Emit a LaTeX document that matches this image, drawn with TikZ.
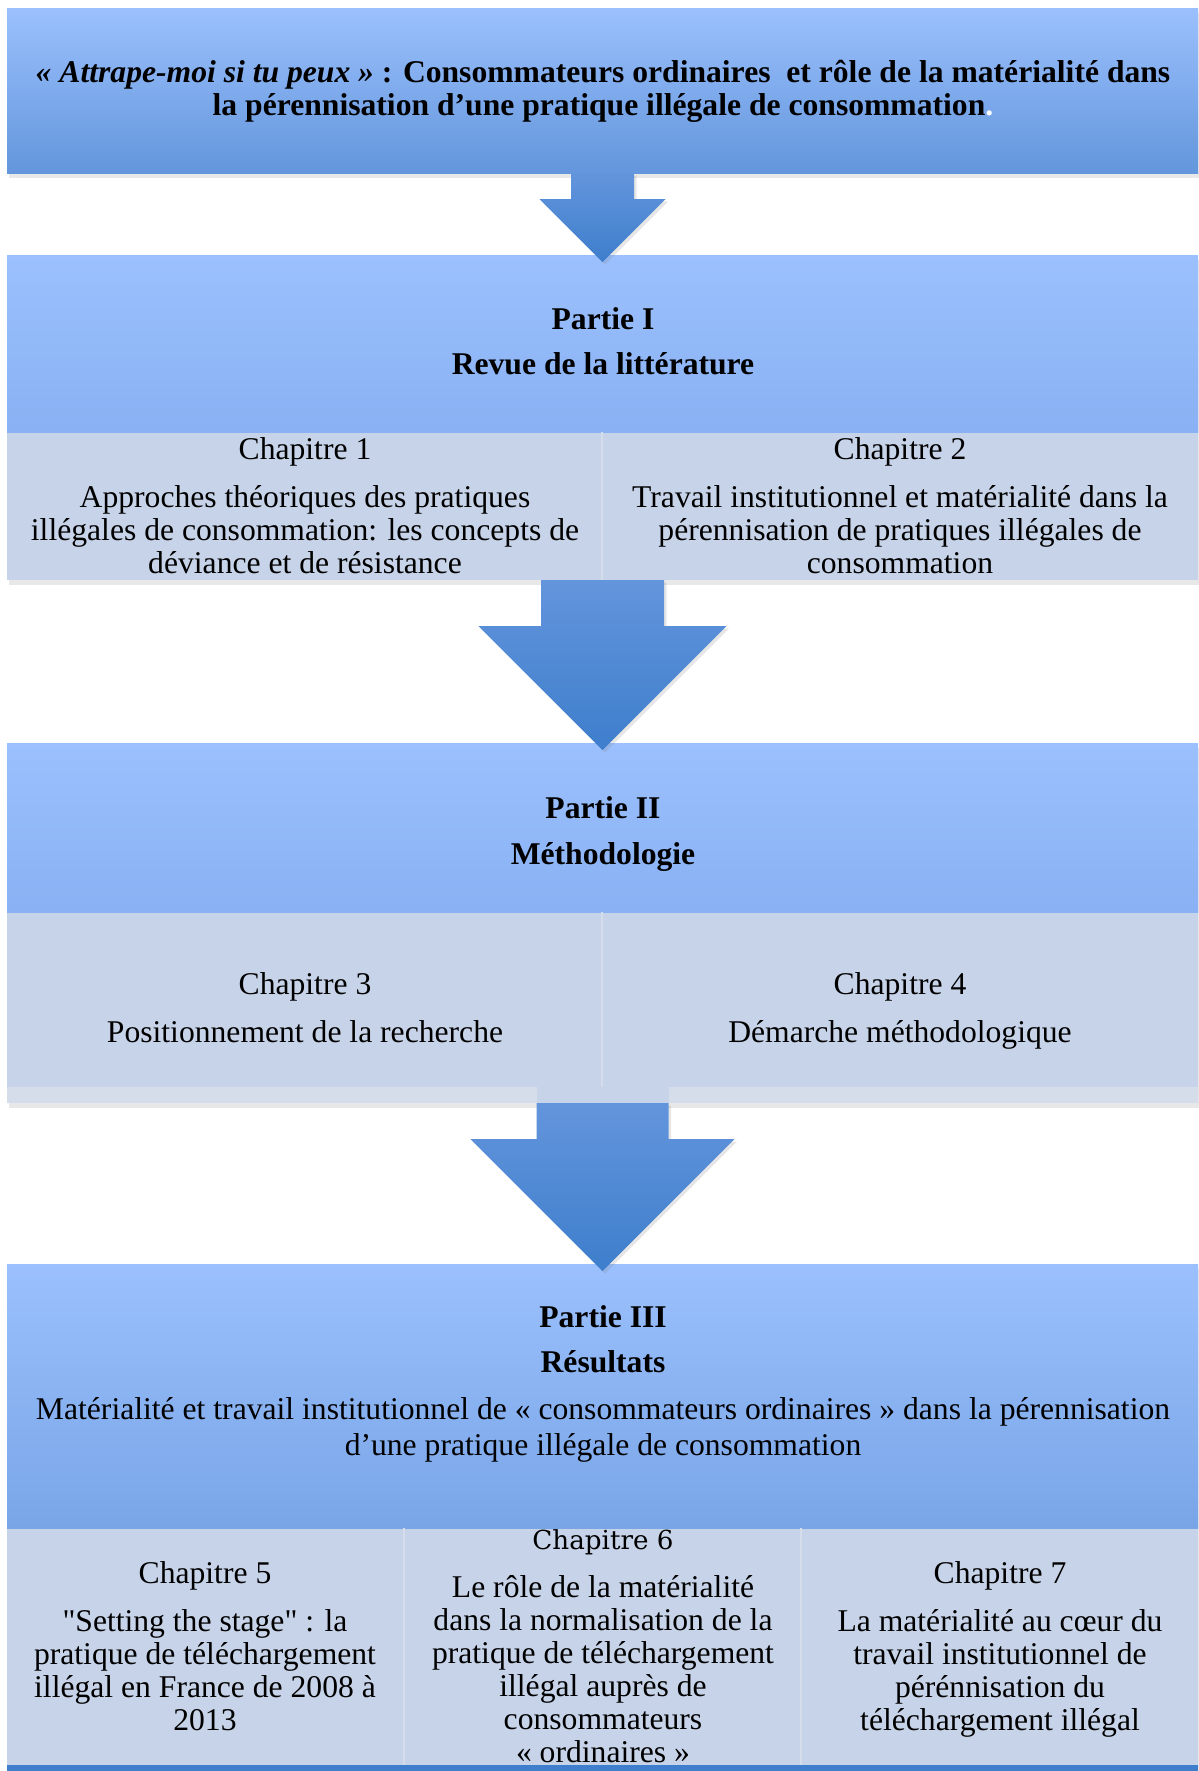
\documentclass[tikz,border=0pt]{standalone}
\usepackage{fontspec}
\setmainfont{Liberation Serif}
\newfontfamily\chapfont{DejaVu Serif}
\newfontfamily\droit{Liberation Serif}[Ligatures=TeXOff]
\usepackage{xcolor}
\usetikzlibrary{calc,fit,shadows}

\definecolor{bleuclair}{RGB}{155,192,253}
\definecolor{bleumoyen}{RGB}{137,177,243}
\definecolor{bleufonce}{RGB}{99,150,220}
\definecolor{bleuresult}{RGB}{121,165,231}
\definecolor{grisbleu}{RGB}{199,211,232}
\definecolor{grisclair}{RGB}{214,221,234}
\definecolor{flechehaut}{RGB}{99,149,220}
\definecolor{flechebas}{RGB}{62,126,204}

\tikzset{
  zone/.style={inner sep=0pt, outer sep=0pt},
  ombre/.style={drop shadow={shadow xshift=0.3mm, shadow yshift=-0.9mm, opacity=0.18}},
  ligne/.style={grisclair, line width=0.25mm},
  titre/.style={align=center, font=\fontsize{18}{18.8}\selectfont\bfseries},
  texte/.style={align=center, font=\fontsize{18}{18.8}\selectfont},
  chapitre/.style={texte, inner sep=0pt, anchor=north},
  fleche/.style={top color=flechehaut, bottom color=flechebas,
    drop shadow={shadow xshift=0.5mm, shadow yshift=-0.5mm, opacity=0.2}},
}

% block arrow: from, to, half shaft, half head, head start
\newcommand{\flechebloc}[5]{%
  \path[fleche] ($(#1)+(-#3,0)$) -- ($(#1)+(#3,0)$) -- ($(#1)+(#3,#5)$) -- ($(#1)+(#4,#5)$)
    -- ($(#2)+(0,7)$) -- ($(#1)+(-#4,#5)$) -- ($(#1)+(-#3,#5)$) -- cycle;}

\begin{document}
\begin{tikzpicture}[x=0.2mm, y=-0.2mm]
    \useasboundingbox (0,0) rectangle (1199,1771);
    \clip (0,0) rectangle (1199,1771);

    % Titre
    \node[fit={(7,8) (1198,173)}, zone, top color=bleuclair, bottom color=bleufonce, ombre] (sujet) {};
    \node[titre] (titre) at (603,91) {{\itshape « Attrape-moi si tu peux »} : Consommateurs ordinaires\ \ et rôle de la matérialité dans\\
      la pérennisation d’une pratique illégale de consommation{\color{white}.}};

    % Partie I
    \node[fit={(7,255) (1198,580)}, zone, fill=grisbleu, ombre] (blocI) {};
    \node[fit={(7,255) (1198,432)}, zone, top color=bleuclair, bottom color=bleumoyen] (partieI) {};
    \node[fit={(7,432) (602,580)}, zone] (zoneI) {};
    \draw[ligne] (zoneI.north east) -- (zoneI.south east);
    \node[titre] (titreI) at (603,341) {Partie I\\[7pt] Revue de la littérature};
    \node[chapitre] (chap1) at (305,437) {Chapitre 1\\[8.5pt] Approches théoriques des pratiques\\ illégales de consommation: les concepts de\\ déviance et de résistance};
    \node[chapitre] (chap2) at (900,437) {Chapitre 2\\[8.5pt] Travail institutionnel et matérialité dans la\\ pérennisation de pratiques illégales de\\ consommation};

    % Partie II
    \node[fit={(7,743) (1198,1103)}, zone, fill=grisbleu, ombre] (blocII) {};
    \node[fit={(7,743) (1198,912)}, zone, top color=bleuclair, bottom color=bleumoyen] (partieII) {};
    \node[fit={(7,912) (602,1087)}, zone] (zoneII) {};
    \draw[ligne] (zoneII.north east) -- (zoneII.south east);
    \fill[grisclair] (7,1087) rectangle (537,1103) (669,1087) rectangle (1198,1103);
    \node[titre] (titreII) at (603,834) {Partie II\\[7pt] Méthodologie};
    \node[chapitre] (chap3) at (305,972) {Chapitre 3\\[8.5pt] Positionnement de la recherche};
    \node[chapitre] (chap4) at (900,972) {Chapitre 4\\[8.5pt] Démarche méthodologique};

    % Partie III
    \node[fit={(7,1264) (1198,1790)}, zone, fill=grisbleu, ombre] (blocIII) {};
    \node[fit={(7,1264) (1198,1528)}, zone, top color=bleuclair, bottom color=bleuresult] (partieIII) {};
    \node[fit={(7,1528) (404,1771)}, zone] (zone5) {};
    \node[fit={(404,1528) (801,1771)}, zone] (zone6) {};
    \draw[ligne] (zone5.north east) -- (zone5.south east);
    \draw[ligne] (zone6.north east) -- (zone6.south east);
    \fill[flechebas] (7,1765) rectangle (1198,1771);
    \node[titre] (titreIII) at (603,1339) {Partie III\\[7pt] Résultats};
    \node[texte] (resume) at (603,1430) {Matérialité et travail institutionnel de « consommateurs ordinaires » dans la pérennisation\\[1.5pt] d’une pratique illégale de consommation};
    \node[chapitre] (chap5) at (205,1561) {Chapitre 5\\[8.5pt] {\droit"}Setting the stage{\droit"} : la\\ pratique de téléchargement\\ illégal en France de 2008 à\\ 2013};
    \node[chapitre] (chap6) at (603,1529) {{\chapfont\fontsize{14.9}{18.8}\selectfont Chapitre 6}\\[8.5pt] Le rôle de la matérialité\\ dans la normalisation de la\\ pratique de téléchargement\\ illégal auprès de\\ consommateurs\\ « ordinaires »};
    \node[chapitre] (chap7) at (1000,1561) {Chapitre 7\\[8.5pt] La matérialité au cœur du\\ travail institutionnel de\\ pérénnisation du\\ téléchargement illégal};

    % Fleches
    \flechebloc{sujet.south}{partieI.north}{31.5}{63}{26}
    \flechebloc{blocI.south}{partieII.north}{61.5}{124}{46}
    \flechebloc{blocII.south}{partieIII.north}{66}{132}{36}
\end{tikzpicture}
\end{document}
